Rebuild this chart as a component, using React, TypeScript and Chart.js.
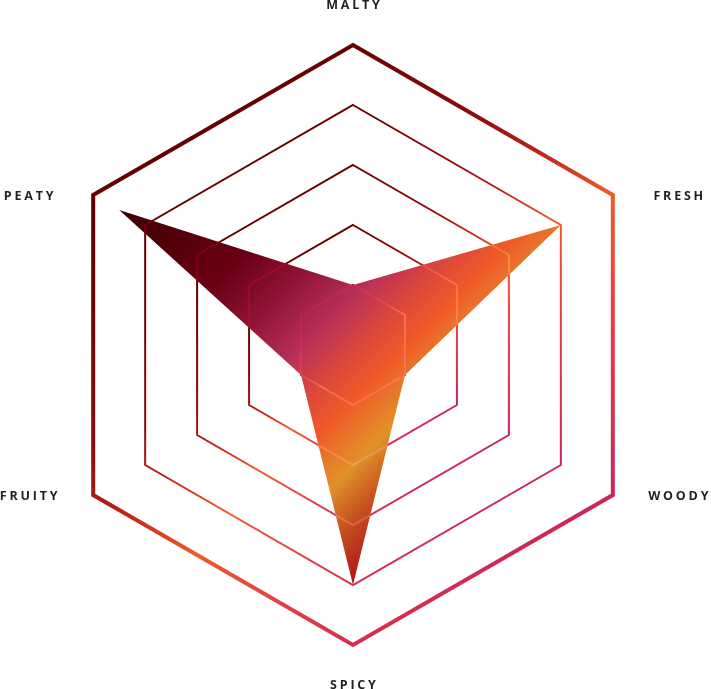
import React, { useEffect, useRef } from 'react';
import { Chart, registerables } from 'chart.js';

Chart.register(...registerables);

// flavour axes, clockwise from the top
const flavours = ['MALTY', 'FRESH', 'WOODY', 'SPICY', 'FRUITY', 'PEATY'];
const scores = [1, 4, 1, 4, 1, 4.5];
const scaleMax = 5;
const scaleStep = 1;

// colour stops for the hexagon rings (per ring, top-left to bottom-right)
const ringStops: [number, string][] = [
  [0, '#560000'],
  [0.22, '#6a0000'],
  [0.38, '#8f0a0c'],
  [0.46, '#b8201a'],
  [0.57, '#f05a28'],
  [0.7, '#e23c48'],
  [0.82, '#d02a55'],
  [1, '#c0104a'],
];

// colour stops for the filled area
const fillStops: [number, string][] = [
  [0, '#3a0000'],
  [0.28, '#6a0015'],
  [0.41, '#901535'],
  [0.53, '#b83058'],
  [0.61, '#d8443e'],
  [0.7, '#f05a28'],
  [0.81, '#e0922a'],
  [0.89, '#c85520'],
  [1, '#b01818'],
];

const ready = (...v: number[]) => v.every((n) => Number.isFinite(n));

const ringGradient = (ctx: CanvasRenderingContext2D, scale: any, r: number) => {
  if (!scale || !ready(scale.xCenter, scale.yCenter, r)) return '#8f0a0c';
  const hw = r * Math.cos(Math.PI / 6);
  const g = ctx.createLinearGradient(scale.xCenter - hw, scale.yCenter - r, scale.xCenter + hw, scale.yCenter + r);
  ringStops.forEach(([o, c]) => g.addColorStop(o, c));
  return g;
};

const fillGradient = (chart: any) => {
  const scale = chart.scales && chart.scales.r;
  if (!scale || !ready(scale.xCenter, scale.yCenter)) return '#b83058';
  const { xCenter: cx, yCenter: cy } = scale;
  const g = chart.ctx.createLinearGradient(cx - 184, cy - 184, cx + 118, cy + 118);
  fillStops.forEach(([o, c]) => g.addColorStop(o, c));
  return g;
};

// shows the rings through the filled area, and writes the axis names
const flavourPlugin = {
  id: 'flavourPlugin',
  afterDatasetsDraw(chart: any) {
    const scale = chart.scales.r;
    const pts = chart.getDatasetMeta(0).data;
    const ctx: CanvasRenderingContext2D = chart.ctx;
    ctx.save();
    ctx.beginPath();
    pts.forEach((p: any, i: number) => (i ? ctx.lineTo(p.x, p.y) : ctx.moveTo(p.x, p.y)));
    ctx.closePath();
    ctx.clip();
    ctx.globalCompositeOperation = 'screen';
    ctx.globalAlpha = 0.6;
    scale.ticks.forEach((tick: any, idx: number) => {
      if (idx === 0) return;
      const r = scale.getDistanceFromCenterForValue(tick.value);
      ctx.beginPath();
      for (let i = 0; i < flavours.length; i++) {
        const p = scale.getPointPosition(i, r);
        i ? ctx.lineTo(p.x, p.y) : ctx.moveTo(p.x, p.y);
      }
      ctx.closePath();
      ctx.strokeStyle = ringGradient(ctx, scale, r);
      ctx.lineWidth = idx === scale.ticks.length - 1 ? 4 : 2;
      ctx.stroke();
    });
    ctx.restore();
  },
  afterDraw(chart: any) {
    const scale = chart.scales.r;
    const ctx: CanvasRenderingContext2D = chart.ctx;
    const spacing = 2.8;
    ctx.save();
    ctx.font = '700 12.5px "Open Sans"';
    ctx.fillStyle = '#231f20';
    (ctx as any).letterSpacing = spacing + 'px';
    ctx.textAlign = 'left';
    ctx.textBaseline = 'alphabetic';
    flavours.forEach((label, i) => {
      const v = scale.getPointPosition(i, scale.drawingArea);
      let x = v.x;
      let y = v.y;
      if (Math.abs(v.x - scale.xCenter) < 1) {
        y += v.y < scale.yCenter ? -40.5 : 39;
      } else {
        x += v.x > scale.xCenter ? 65.5 : -64.5;
      }
      const w = ctx.measureText(label).width - spacing;
      ctx.fillText(label, x - w / 2, y + 4.5);
    });
    ctx.restore();
  },
};

const FlavourRadar: React.FC = () => {
  const canvasRef = useRef<HTMLCanvasElement>(null);
  const chartRef = useRef<Chart | null>(null);

  useEffect(() => {
    if (chartRef.current) chartRef.current.destroy();
    const ctx = canvasRef.current?.getContext('2d');
    if (!ctx) return;

    chartRef.current = new Chart(ctx, {
      type: 'radar',
      data: {
        labels: flavours,
        datasets: [
          {
            data: scores,
            fill: true,
            backgroundColor: (c: any) => fillGradient(c.chart),
            borderColor: 'transparent',
            borderWidth: 0,
            pointRadius: 0,
            pointHoverRadius: 0,
            tension: 0,
          },
        ],
      },
      options: {
        responsive: true,
        maintainAspectRatio: false,
        animation: false,
        layout: { padding: { left: 53, right: 58, top: 45, bottom: 44 } },
        plugins: {
          legend: { display: false },
          tooltip: { enabled: false },
        },
        scales: {
          r: {
            min: 0,
            max: scaleMax,
            ticks: { stepSize: scaleStep, display: false },
            pointLabels: { display: false },
            angleLines: { display: false },
            grid: {
              color: (c: any) =>
                c.tick ? ringGradient(c.chart.ctx, c.scale, c.scale.getDistanceFromCenterForValue(c.tick.value)) : '#8f0a0c',
              lineWidth: (c: any) => (c.scale && c.index === c.scale.ticks.length - 1 ? 4 : 2),
            },
          },
        },
      },
      plugins: [flavourPlugin],
    });

    return () => {
      if (chartRef.current) {
        chartRef.current.destroy();
        chartRef.current = null;
      }
    };
  }, []);

  return (
    <div style={{ position: 'absolute', left: 0, top: 0, width: '711px', height: '689px' }}>
      <canvas ref={canvasRef}></canvas>
    </div>
  );
};

export default function App() {
  return <FlavourRadar />;
}
